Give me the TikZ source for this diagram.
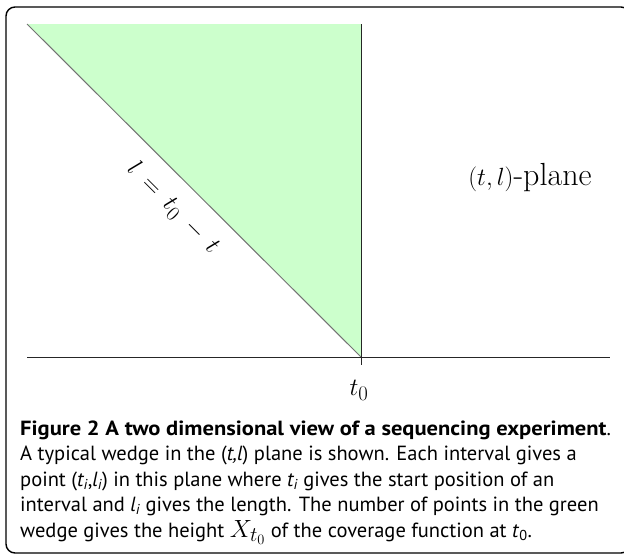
\documentclass[tikz,border=0pt]{standalone}
\usepackage{amsmath}
\usepackage{fontspec}
\usepackage{tikz}
\usetikzlibrary{positioning}
\newfontfamily\capfont[BoldFeatures={FakeStretch=1.1}]{PT Sans}

\begin{document}
\begin{tikzpicture}[x=1pt,y=-1pt,
frame/.style={draw=black, line width=1.4pt, rounded corners=9pt},
wedge/.style={fill=green!20!white},
axis/.style={draw=black!85, line width=1pt},
edge/.style={draw=black!55, line width=1pt},
big/.style={font=\fontsize{32}{38}\selectfont, inner sep=0pt},
capline/.style={anchor=base west, inner sep=0pt,
                font=\capfont\fontsize{20.5}{25}\selectfont}
]
\useasboundingbox (0,0) rectangle (624,555);
\draw[frame] (6,7) rectangle (630,553);

% the wedge
\coordinate (apex) at (27,24);
\coordinate (top) at (361,24);
\coordinate (base) at (361,357);
\fill[wedge] (apex) -- (top) -- (base) -- cycle;
\draw[edge] (apex) -- (base);
\draw[axis, line width=0.8pt] (top) -- (361,365);
\draw[axis] (27,357) -- (610,357);

\node[big] (tzero) at (359,390) {$t_0$};
\node[big] (plane) at (530,178) {$(t,l)$-plane};
\node[big, rotate=-45] (diag) at (173,208)
{$l \mkern4mu= \mkern4mu t_0 \mkern4mu- \mkern4mu t$};

% caption
\node[capline] (cap1) at (20,435)
{\textbf{Figure 2 A two dimensional view of a sequencing experiment}.};
\node[capline] (cap2) at (20,460.5)
{A typical wedge in the (\textit{t,l}) plane is shown. Each interval gives a};
\node[capline] (cap3) at (20,486)
{point (\textit{t\textsubscript{i}},\textit{l\textsubscript{i}}) in this plane where \textit{t\textsubscript{i}} gives the start position of an};
\node[capline] (cap4) at (20,511.5)
{interval and \textit{l\textsubscript{i}} gives the length. The number of points in the green};
\node[capline] (cap5) at (20,537)
{wedge gives the height {\fontsize{28}{28}\selectfont$X_{t_0}$} of the coverage function at \textit{t}\textsubscript{0}.};
\end{tikzpicture}
\end{document}
